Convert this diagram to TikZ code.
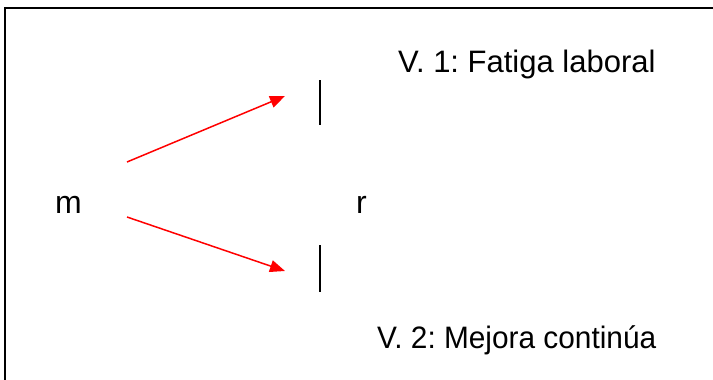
\documentclass[tikz,border=0pt]{standalone}
\usepackage{fontspec}
\setmainfont{Liberation Sans}
\usetikzlibrary{arrows.meta}
\begin{document}
\frenchspacing
\begin{tikzpicture}[x=1pt,y=-1pt,
  lbl/.style={inner sep=0pt,anchor=base west,font=\fontsize{31}{37}\selectfont},
  letter/.style={inner sep=0pt,anchor=base west,font=\fontsize{32}{38}\selectfont},
  redarrow/.style={draw=red,line width=1.5pt,-{Triangle[length=15pt,width=12pt]}},
  bar/.style={draw=black,line width=1.5pt},
  frame/.style={draw=black,line width=2pt}]
\useasboundingbox (0,0) rectangle (713,380);
% frame (top and left edges)
\coordinate (fl) at (5,381);
\coordinate (tl) at (5,8);
\coordinate (tr) at (714,8);
\draw[frame] (fl) -- (tl) -- (tr);
% texts
\node[lbl] (v1) at (398,72) {V. 1: Fatiga laboral};
\node[lbl] (v2) at (377,348) {\scalebox{0.962}[1]{V. 2: Mejora continúa}};
\node[letter] (m) at (55,213) {m};
\node[letter] (r) at (356,213) {r};
% bars
\coordinate (b1t) at (320,80);
\coordinate (b1b) at (320,125);
\coordinate (b2t) at (320,245);
\coordinate (b2b) at (320,292);
\draw[bar] (b1t) -- (b1b);
\draw[bar] (b2t) -- (b2b);
% arrows
\coordinate (a1s) at (127,162);
\coordinate (a1e) at (285,96);
\coordinate (a2s) at (127,217);
\coordinate (a2e) at (285,271);
\draw[redarrow] (a1s) -- (a1e);
\draw[redarrow] (a2s) -- (a2e);
\end{tikzpicture}
\end{document}
